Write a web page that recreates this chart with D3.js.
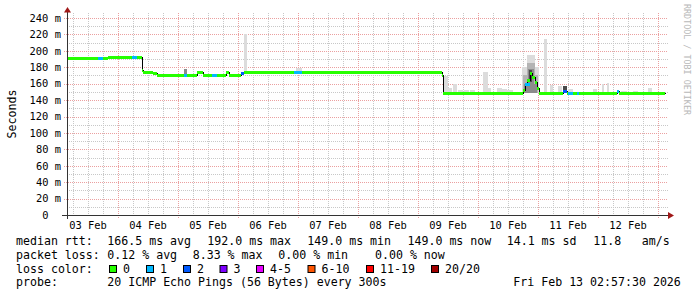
<!DOCTYPE html>
<html>
<head>
<meta charset="utf-8">
<script src="https://cdn.jsdelivr.net/npm/d3@7"></script>
<style>
  body { margin: 0; background: #fff; }
  text { font-family: "DejaVu Sans Mono", monospace; }
</style>
</head>
<body>
<div id="chart"></div>
<script>
// hours counted from 03 Feb 2026 00:00
const medianHours = [3.6, 20, 33.5, 34, 38, 39.6, 55.5, 58.1, 67.2, 68.4, 73.2, 74.4, 153.5, 154.1,
    186.0, 186.8, 187.7, 188.6, 189.6, 190.6, 191.6, 192.4, 202, 203.6, 223.5, 224.4, 242.8]
const medianMs = [191, 193, 176.5, 173.8, 172.6, 170.2, 173.8, 170.2, 174.6, 170.2, 172.6, 173.8, 170.2, 149,
    152, 159, 164.5, 173.4, 168.5, 162.4, 154.4, 149, 151, 149, 151.5, 149, 149]

const lossFrom = [16.0, 29.6, 50.4, 61.6, 73.2, 94.4, 186.8, 202, 204, 207.5, 223.5]
const lossTo = [18.0, 31.6, 51.5, 63.6, 74.4, 97.5, 188.6, 203.6, 205.9, 208.5, 224.4]
const lossCount = [1, 1, 1, 1, 2, 1, 1, 2, 1, 1, 1]

const smokeFrom = [50.4, 74.4, 95.2, 110, 135.6, 139.6, 154.4, 156.1, 158.1, 160.0, 162.5, 164.8, 170.0, 172.0,
    175.5, 177.5, 179.6, 185.6, 187.6, 186.0, 187.6, 186.4, 188.0, 188.4, 194.4, 196.8, 200.0, 202.0,
    204.0, 214.0, 217.5, 219.5, 225.0, 230.0, 236.0]
const smokeTo = [51.5, 75.5, 97.5, 110.8, 136.4, 140.4, 156.1, 157.6, 159.5, 161.9, 164.4, 166.8, 172.0, 173.1,
    177.5, 179.5, 182.0, 192.4, 190.6, 192.0, 190.6, 191.6, 190.4, 189.6, 195.5, 198.0, 201.5, 203.5,
    206.0, 215.5, 218.4, 220.4, 227.6, 232.0, 237.5]
const smokeLow = [170.2, 173.8, 173.8, 173.8, 173.8, 173.8, 149, 149, 149, 149, 149, 149, 149, 149,
    149, 149, 149, 149, 149, 149, 152, 149, 155, 162, 149, 149, 149, 151,
    149, 149, 149, 149, 149, 149, 149]
const smokeHigh = [178, 220.5, 179, 176, 176, 176, 169, 154.4, 159.6, 152.3, 152.3, 152.3, 174.6, 154.4,
    155, 153, 152.3, 180, 195, 170, 185, 160, 178, 177, 214.4, 158.4, 157, 157.2,
    153.5, 153.5, 159, 160.4, 151.5, 151.5, 154.4]
const smokeShade = [2, 0, 0, 0, 0, 0, 0, 0, 0, 0, 0, 0, 0, 0,
    0, 0, 0, 0, 0, 1, 1, 2, 2, 3, 0, 0, 0, 3,
    0, 0, 0, 0, 0, 0, 0]

const yTicks = [0, 20, 40, 60, 80, 100, 120, 140, 160, 180, 200, 220, 240]
const lossLabels = ["0", "1", "2", "3", "4-5", "6-10", "11-19", "20/20"]
const lossColors = ["#26ff00", "#00b8ff", "#0059ff", "#7e00ff", "#e600ff", "#ff5500", "#ff0000", "#a10000"]
const shades = ["#dcdcdc", "#b4b4b4", "#8c8c8c", "#4a4a4a"]

const rttStats = ["166.5 ms avg", "192.0 ms max", "149.0 ms min", "149.0 ms now", "14.1 ms sd", "11.8", "am/s"]
const lossStats = ["0.12 % avg", "8.33 % max", "0.00 % min", "0.00 % now"]
const probeText = "20 ICMP Echo Pings (56 Bytes) every 300s"
const stampText = "Fri Feb 13 02:57:30 2026"

const width = 697
const height = 297
const pLeft = 67, pRight = 667, pBottom = 215, pTop = 13

const t0 = Date.UTC(2026, 1, 3)
const hour = h => new Date(t0 + h * 3600e3)

const x = d3.scaleUtc().domain([hour(3.6), hour(243.6)]).range([pLeft, pRight])
const y = d3.scaleLinear().domain([0, 240]).range([pBottom, 18])
const px = v => Math.round(v) + .5

const svg = d3.select("#chart").append("svg")
    .attr("width", width)
    .attr("height", height)

svg.append("rect").attr("width", width).attr("height", height).attr("fill", "#fff")

// grid
const grid = svg.append("g").attr("shape-rendering", "crispEdges").attr("stroke-dasharray", "1,1")
const minorY = d3.range(10, 241, 20)
grid.selectAll(".hmin").data(minorY).enter().append("line")
    .attr("x1", pLeft).attr("x2", pRight + 1)
    .attr("y1", d => px(y(d))).attr("y2", d => px(y(d)))
    .attr("stroke", "#c8c8c8")
const sixHours = d3.utcHour.every(6).range(x.domain()[0], x.domain()[1]).filter(d => d.getUTCHours() != 0)
grid.selectAll(".vmin").data(sixHours).enter().append("line")
    .attr("x1", d => px(x(d))).attr("x2", d => px(x(d)))
    .attr("y1", pTop).attr("y2", pBottom)
    .attr("stroke", "#c8c8c8")
grid.selectAll(".hmaj").data(yTicks.slice(1)).enter().append("line")
    .attr("x1", pLeft - 3).attr("x2", pRight + 1)
    .attr("y1", d => px(y(d))).attr("y2", d => px(y(d)))
    .attr("stroke", "#eba0a0")
const days = d3.utcDay.range(x.domain()[0], x.domain()[1])
grid.selectAll(".vmaj").data(days).enter().append("line")
    .attr("x1", d => px(x(d))).attr("x2", d => px(x(d)))
    .attr("y1", pTop).attr("y2", pBottom + 3)
    .attr("stroke", "#eba0a0")

// smoke
const plot = svg.append("g").attr("shape-rendering", "crispEdges")
plot.selectAll(".smoke").data(smokeFrom).enter().append("rect")
    .attr("x", (d, i) => Math.round(x(hour(d))))
    .attr("width", (d, i) => Math.max(1, Math.round(x(hour(smokeTo[i]))) - Math.round(x(hour(d)))))
    .attr("y", (d, i) => Math.round(y(smokeHigh[i])))
    .attr("height", (d, i) => Math.round(y(smokeLow[i])) - Math.round(y(smokeHigh[i])))
    .attr("fill", (d, i) => shades[smokeShade[i]])

// median
const steps = medianHours.map((h, i) => ({ t: hour(h), v: medianMs[i] }))
plot.append("path")
    .datum(steps)
    .attr("d", d3.line().x(d => px(x(d.t))).y(d => px(y(d.v))).curve(d3.curveStepAfter))
    .attr("fill", "none")
    .attr("stroke", "#000")
    .attr("stroke-width", 1)

const band = (h0, h1, v, color) => {
    plot.append("rect")
        .attr("x", Math.round(x(hour(h0))))
        .attr("width", Math.max(1, Math.round(x(hour(h1))) - Math.round(x(hour(h0)))))
        .attr("y", Math.round(y(v)) - 1)
        .attr("height", 3)
        .attr("fill", color)
}
for (let i = 0; i < steps.length - 1; i++) {
    band(medianHours[i], medianHours[i + 1], medianMs[i], lossColors[0])
}
const bisect = d3.bisector(d => d).right
lossFrom.forEach((h, i) => {
    const k = Math.max(0, bisect(medianHours, h + 0.01) - 1)
    band(h, lossTo[i], medianMs[k], lossColors[lossCount[i]])
})

// axes
const axes = svg.append("g").attr("shape-rendering", "crispEdges")
axes.append("line").attr("x1", pLeft - 5).attr("x2", pRight + 2)
    .attr("y1", pBottom + .5).attr("y2", pBottom + .5).attr("stroke", "#333")
axes.append("line").attr("x1", pLeft + .5).attr("x2", pLeft + .5)
    .attr("y1", pBottom + 4).attr("y2", 11).attr("stroke", "#333")
svg.append("path").attr("d", `M${pLeft - 3},12.5L${pLeft + 4},12.5L${pLeft + .5},7Z`).attr("fill", "#a01818")
svg.append("path").attr("d", `M${pRight + 1},212L${pRight + 1},219L${pRight + 7},215.5Z`).attr("fill", "#a01818")

const yl = svg.append("g").attr("font-size", "10.4px").attr("fill", "#000")
yl.selectAll(".yn").data(yTicks).enter().append("text")
    .attr("x", 48.4).attr("y", d => y(d) + 3.8)
    .attr("text-anchor", "end")
    .text(d => d)
yl.selectAll(".yu").data(yTicks.filter(d => d > 0)).enter().append("text")
    .attr("x", 54.7).attr("y", d => y(d) + 3.8)
    .text("m")

const fmt = d3.utcFormat("%d %b")
yl.selectAll(".xl").data(days.map(d => d3.utcHour.offset(d, -12)).filter(d => x(d) > pLeft)).enter()
    .append("text")
    .attr("x", d => x(d)).attr("y", 228.5)
    .attr("text-anchor", "middle")
    .text(d => fmt(d))

svg.append("text")
    .attr("transform", "translate(15.5,114) rotate(-90)")
    .attr("text-anchor", "middle")
    .attr("font-size", "11.6px")
    .text("Seconds")

svg.append("text")
    .attr("transform", "translate(684,4) rotate(90)")
    .attr("font-size", "8.4px")
    .attr("fill", "#b8b8b8")
    .attr("textLength", 111)
    .text("RRDTOOL / TOBI OETIKER")

// legend
const lg = svg.append("g").attr("font-size", "11.6px").attr("fill", "#000").style("white-space", "pre")
const put = (tx, xx, yy) => lg.append("text").attr("x", xx).attr("y", yy).text(tx)
const rows = [245, 258.8, 272.6, 286.4]

put("median rtt:", 16, rows[0])
const rttX = [107.3, 207.3, 307.3, 407.5, 506.7, 593.3, 641.7]
rttStats.forEach((s, i) => put(s, rttX[i], rows[0]))

put("packet loss:", 16, rows[1])
const lossX = [107.3, 192.7, 278.3, 375]
lossStats.forEach((s, i) => put(s, lossX[i], rows[1]))

put("loss color:", 16, rows[2])
const boxX = [109, 146, 183, 219.5, 256, 307.5, 366, 431]
lossLabels.forEach((s, i) => {
    lg.append("rect")
        .attr("x", boxX[i] + .5).attr("y", 265.5)
        .attr("width", 7).attr("height", 7)
        .attr("fill", lossColors[i])
        .attr("stroke", "#000")
        .attr("stroke-width", 1)
    put(s, boxX[i] + 14, rows[2])
})

put("probe:", 16, rows[3])
put(probeText, 107.3, rows[3])
put(stampText, 513.3, rows[3])
</script>
</body>
</html>
